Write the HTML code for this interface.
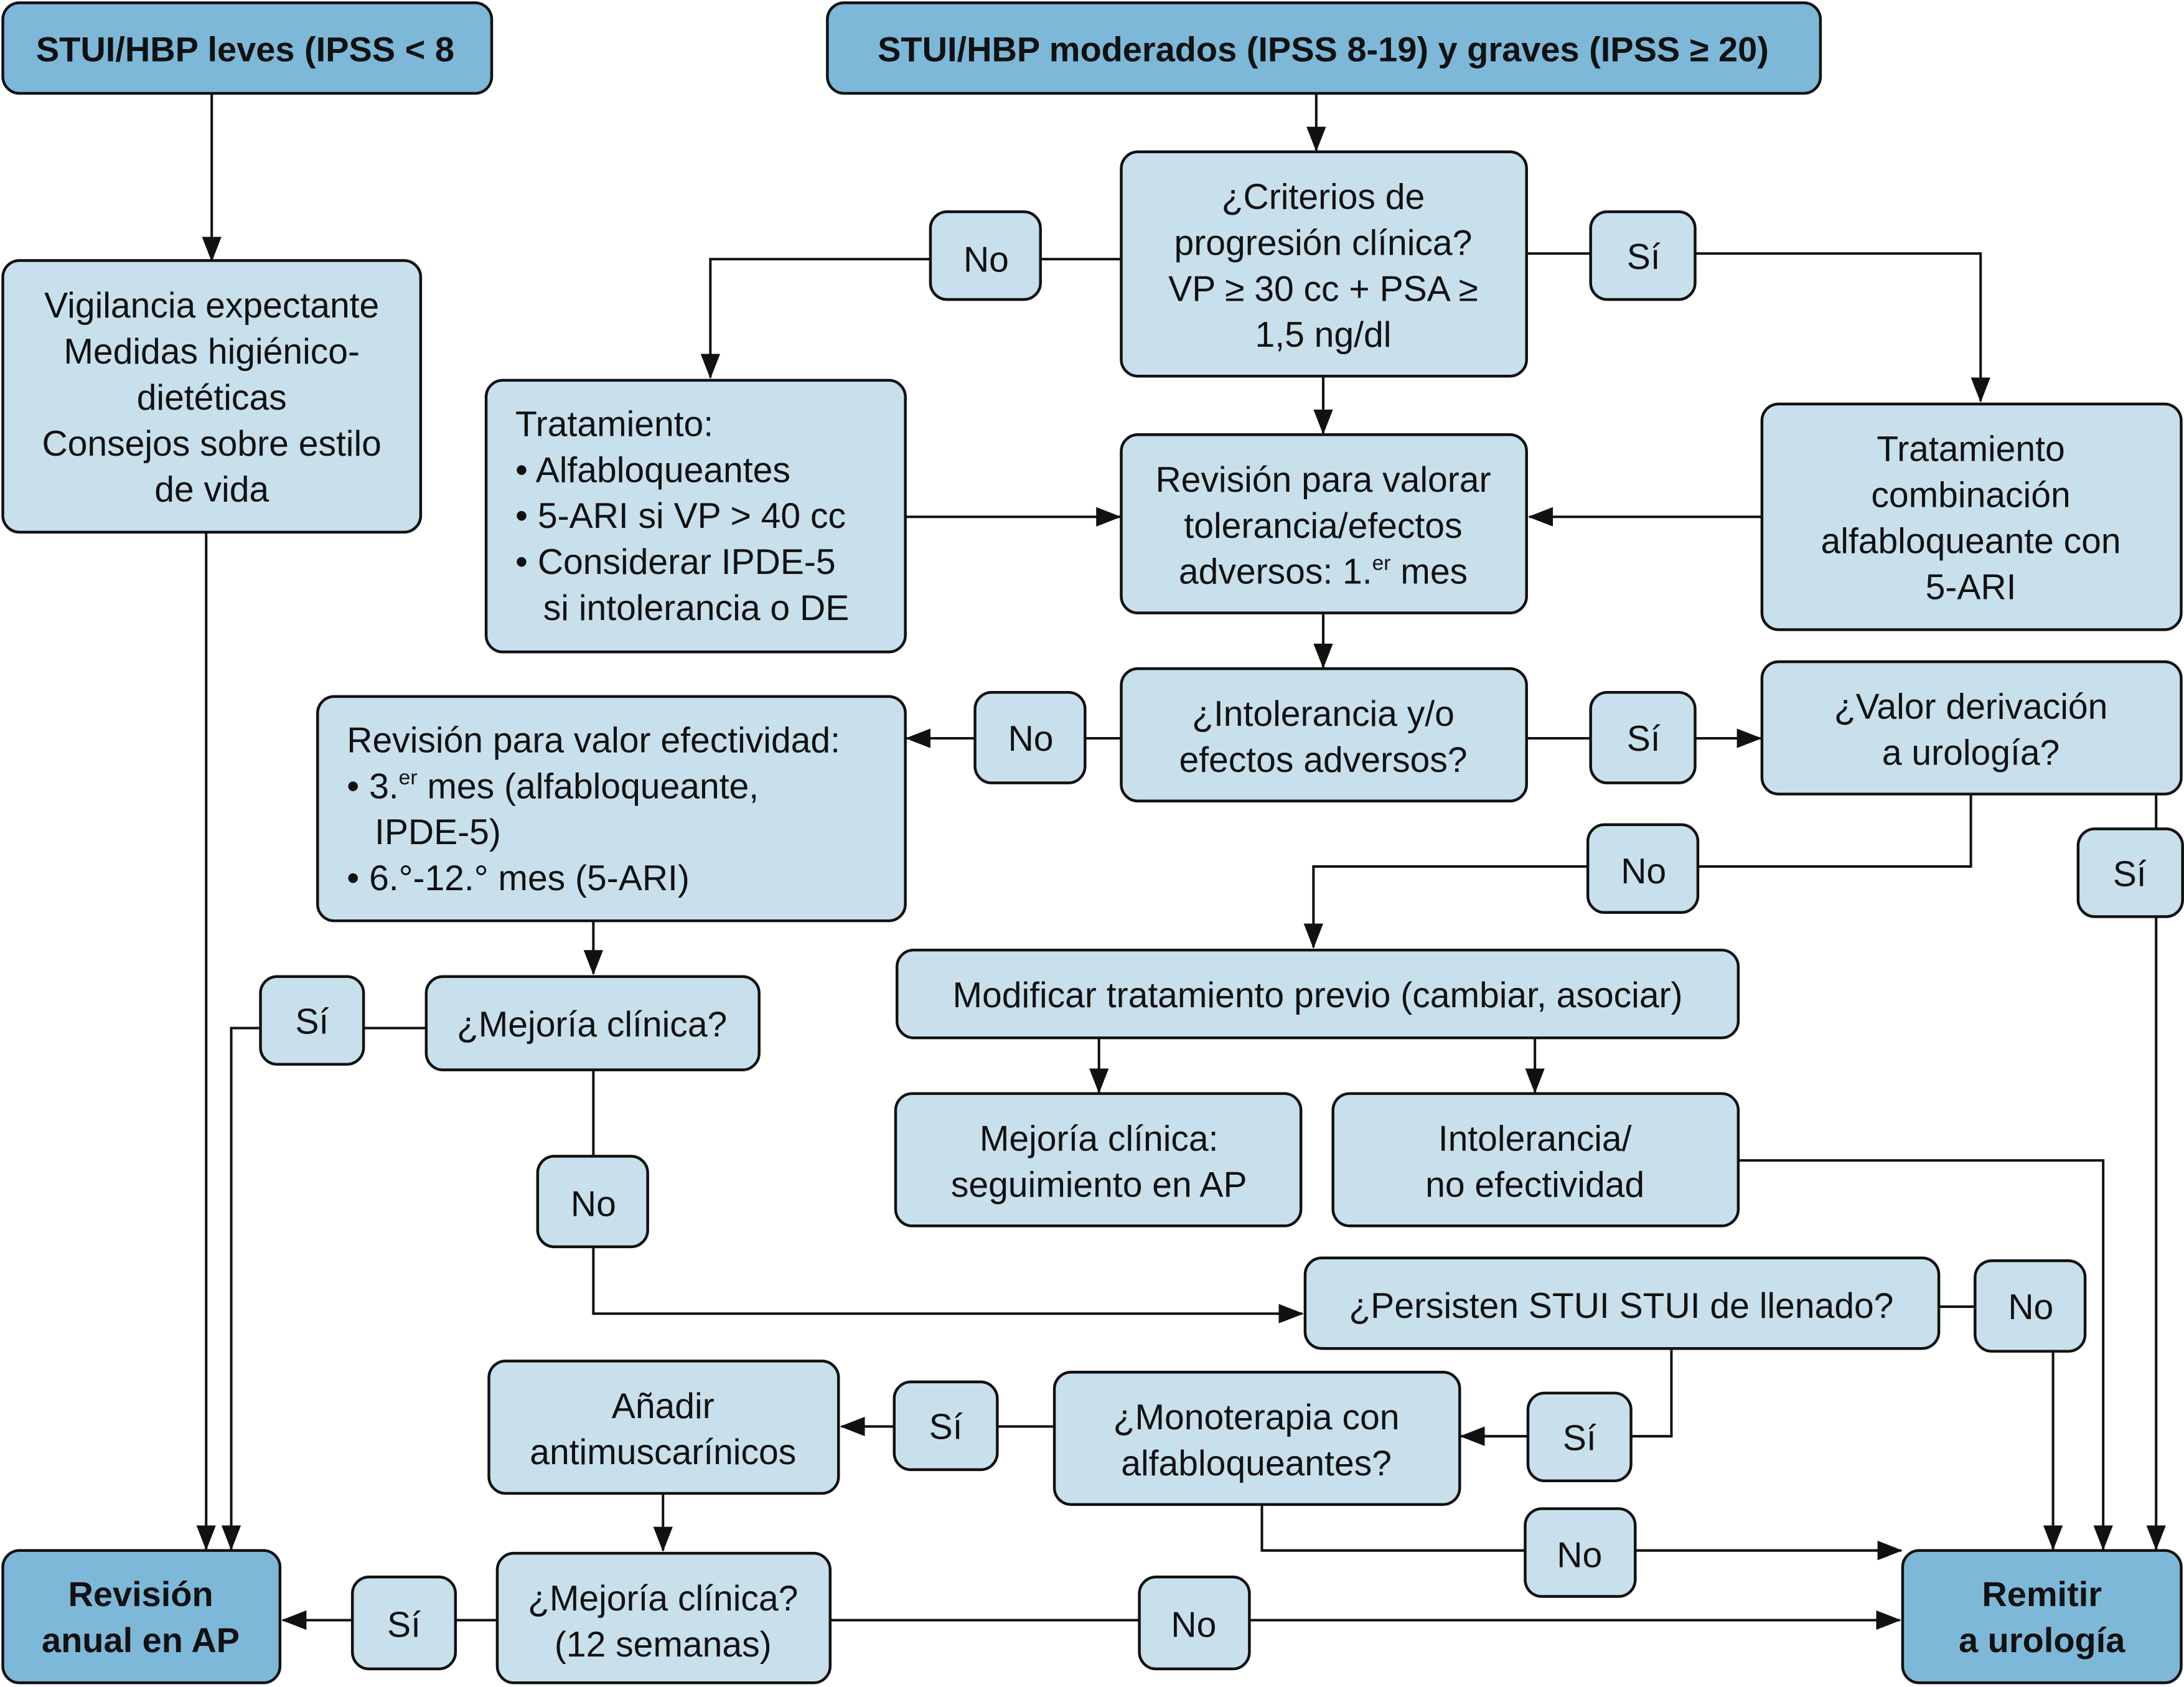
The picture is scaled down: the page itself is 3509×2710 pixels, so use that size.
<!DOCTYPE html>
<html><head><meta charset="utf-8"><style>
html,body{margin:0;padding:0;background:#fff}
svg{display:block}
text{font-family:"Liberation Sans Narrow","Liberation Sans",sans-serif;font-size:25.5px;fill:#111}
.b{font-weight:bold;font-size:25px}
.c{text-anchor:middle}
.d{fill:#7db8d8;stroke:#111;stroke-width:2}
.l{fill:#c8e0ec;stroke:#111;stroke-width:2}
.ln{fill:none;stroke:#111;stroke-width:1.8}
</style></head><body>
<svg width="3509" height="2710" viewBox="0 0 1568 1211" xmlns="http://www.w3.org/2000/svg">
<defs><marker id="a" markerWidth="18" markerHeight="14" refX="17" refY="7" orient="auto" markerUnits="userSpaceOnUse"><path d="M0,0 L18,7 L0,14 z" fill="#111"/></marker></defs>
<g class="ln">
<path d="M152,67V187" marker-end="url(#a)"/>
<path d="M945,67V108" marker-end="url(#a)"/>
<path d="M805,186H747M668,186H510V271" marker-end="url(#a)"/>
<path d="M1096,182H1142M1217,182H1422V288" marker-end="url(#a)"/>
<path d="M950,270V311" marker-end="url(#a)"/>
<path d="M650,371H804" marker-end="url(#a)"/>
<path d="M1265,371H1098" marker-end="url(#a)"/>
<path d="M950,440V479" marker-end="url(#a)"/>
<path d="M805,530H779M700,530H651" marker-end="url(#a)"/>
<path d="M1096,530H1142M1217,530H1264" marker-end="url(#a)"/>
<path d="M1415,570V622H1219M1140,622H943V680" marker-end="url(#a)"/>
<path d="M1548,570V595M1548,658V1112" marker-end="url(#a)"/>
<path d="M148,382V1112" marker-end="url(#a)"/>
<path d="M426,661V699" marker-end="url(#a)"/>
<path d="M306,738H261M187,738H166V1112" marker-end="url(#a)"/>
<path d="M426,768V830M426,895V943H935" marker-end="url(#a)"/>
<path d="M789,745V784" marker-end="url(#a)"/>
<path d="M1102,745V784" marker-end="url(#a)"/>
<path d="M1248,833H1510V1112" marker-end="url(#a)"/>
<path d="M1392,938H1418M1474,970V1112" marker-end="url(#a)"/>
<path d="M1200,968V1031H1171M1097,1031H1049" marker-end="url(#a)"/>
<path d="M757,1024H716M642,1024H604" marker-end="url(#a)"/>
<path d="M906,1080V1113H1095M1174,1113H1365" marker-end="url(#a)"/>
<path d="M476,1072V1113" marker-end="url(#a)"/>
<path d="M357,1163H327M253,1163H203" marker-end="url(#a)"/>
<path d="M596,1163H818M897,1163H1364" marker-end="url(#a)"/>
</g>
<rect class="d" x="2" y="2" width="351" height="65" rx="12"/>
<rect class="d" x="594" y="2" width="713" height="65" rx="12"/>
<rect class="l" x="2" y="187" width="300" height="195" rx="12"/>
<rect class="l" x="805" y="109" width="291" height="161" rx="12"/>
<rect class="l" x="668" y="152" width="79" height="63" rx="12"/>
<rect class="l" x="1142" y="152" width="75" height="63" rx="12"/>
<rect class="l" x="349" y="273" width="301" height="195" rx="12"/>
<rect class="l" x="805" y="312" width="291" height="128" rx="12"/>
<rect class="l" x="1265" y="290" width="301" height="162" rx="12"/>
<rect class="l" x="805" y="480" width="291" height="95" rx="12"/>
<rect class="l" x="700" y="497" width="79" height="65" rx="12"/>
<rect class="l" x="1142" y="497" width="75" height="65" rx="12"/>
<rect class="l" x="1265" y="475" width="301" height="95" rx="12"/>
<rect class="l" x="228" y="500" width="422" height="161" rx="12"/>
<rect class="l" x="1140" y="592" width="79" height="63" rx="12"/>
<rect class="l" x="1492" y="595" width="75" height="63" rx="12"/>
<rect class="l" x="644" y="682" width="604" height="63" rx="12"/>
<rect class="l" x="643" y="785" width="291" height="95" rx="12"/>
<rect class="l" x="957" y="785" width="291" height="95" rx="12"/>
<rect class="l" x="187" y="701" width="74" height="63" rx="12"/>
<rect class="l" x="306" y="701" width="239" height="67" rx="12"/>
<rect class="l" x="386" y="830" width="79" height="65" rx="12"/>
<rect class="l" x="937" y="903" width="455" height="65" rx="12"/>
<rect class="l" x="1418" y="905" width="79" height="65" rx="12"/>
<rect class="l" x="351" y="977" width="251" height="95" rx="12"/>
<rect class="l" x="642" y="992" width="74" height="63" rx="12"/>
<rect class="l" x="757" y="985" width="291" height="95" rx="12"/>
<rect class="l" x="1097" y="1000" width="74" height="63" rx="12"/>
<rect class="l" x="1095" y="1083" width="79" height="63" rx="12"/>
<rect class="d" x="2" y="1113" width="199" height="95" rx="12"/>
<rect class="l" x="253" y="1132" width="74" height="66" rx="12"/>
<rect class="l" x="357" y="1115" width="239" height="93" rx="12"/>
<rect class="l" x="818" y="1132" width="79" height="66" rx="12"/>
<rect class="d" x="1366" y="1113" width="200" height="95" rx="12"/>
<text class="b c" x="176" y="44">STUI/HBP leves (IPSS &lt; 8</text>
<text class="b c" x="950" y="44">STUI/HBP  moderados (IPSS 8-19) y graves (IPSS ≥ 20)</text>
<g class="c">
<text x="152" y="228">Vigilancia expectante</text>
<text x="152" y="261">Medidas higiénico-</text>
<text x="152" y="294">dietéticas</text>
<text x="152" y="327">Consejos sobre estilo</text>
<text x="152" y="360">de vida</text>
<text x="950" y="150">¿Criterios de</text>
<text x="950" y="183">progresión clínica?</text>
<text x="950" y="216">VP ≥ 30 cc + PSA ≥</text>
<text x="950" y="249">1,5 ng/dl</text>
<text x="708" y="195">No</text>
<text x="1180" y="193">Sí</text>
<text x="950" y="353">Revisión para valorar</text>
<text x="950" y="386">tolerancia/efectos</text>
<text x="950" y="419">adversos: 1.<tspan font-size="15" dy="-10">er</tspan><tspan dy="10"> mes</tspan></text>
<text x="1415" y="331">Tratamiento</text>
<text x="1415" y="364">combinación</text>
<text x="1415" y="397">alfabloqueante con</text>
<text x="1415" y="430">5-ARI</text>
<text x="950" y="521">¿Intolerancia y/o</text>
<text x="950" y="554">efectos adversos?</text>
<text x="740" y="539">No</text>
<text x="1180" y="539">Sí</text>
<text x="1415" y="516">¿Valor derivación</text>
<text x="1415" y="549">a urología?</text>
<text x="1180" y="634">No</text>
<text x="1529" y="636">Sí</text>
<text x="946" y="723">Modificar tratamiento previo (cambiar, asociar)</text>
<text x="789" y="826">Mejoría clínica:</text>
<text x="789" y="859">seguimiento en AP</text>
<text x="1102" y="826">Intolerancia/</text>
<text x="1102" y="859">no efectividad</text>
<text x="224" y="742">Sí</text>
<text x="425" y="744">¿Mejoría clínica?</text>
<text x="426" y="873">No</text>
<text x="1164" y="946">¿Persisten STUI STUI de llenado?</text>
<text x="1458" y="947">No</text>
<text x="476" y="1018">Añadir</text>
<text x="476" y="1051">antimuscarínicos</text>
<text x="679" y="1033">Sí</text>
<text x="902" y="1026">¿Monoterapia con</text>
<text x="902" y="1059">alfabloqueantes?</text>
<text x="1134" y="1041">Sí</text>
<text x="1134" y="1125">No</text>
<text x="290" y="1175">Sí</text>
<text x="476" y="1156">¿Mejoría clínica?</text>
<text x="476" y="1189">(12 semanas)</text>
<text x="857" y="1175">No</text>
<text class="b" x="101" y="1153">Revisión</text>
<text class="b" x="101" y="1186">anual en AP</text>
<text class="b" x="1466" y="1153">Remitir</text>
<text class="b" x="1466" y="1186">a urología</text>
</g>
<text x="370" y="313">Tratamiento:</text>
<text x="370" y="346">• Alfabloqueantes</text>
<text x="370" y="379">• 5-ARI si VP &gt; 40 cc</text>
<text x="370" y="412">• Considerar IPDE-5</text>
<text x="390" y="445">si intolerancia o DE</text>
<text x="249" y="540">Revisión para valor efectividad:</text>
<text x="249" y="573">• 3.<tspan font-size="15" dy="-10">er</tspan><tspan dy="10"> mes (alfabloqueante,</tspan></text>
<text x="269" y="606">IPDE-5)</text>
<text x="249" y="639">• 6.°-12.° mes (5-ARI)</text>
</svg>
</body></html>
